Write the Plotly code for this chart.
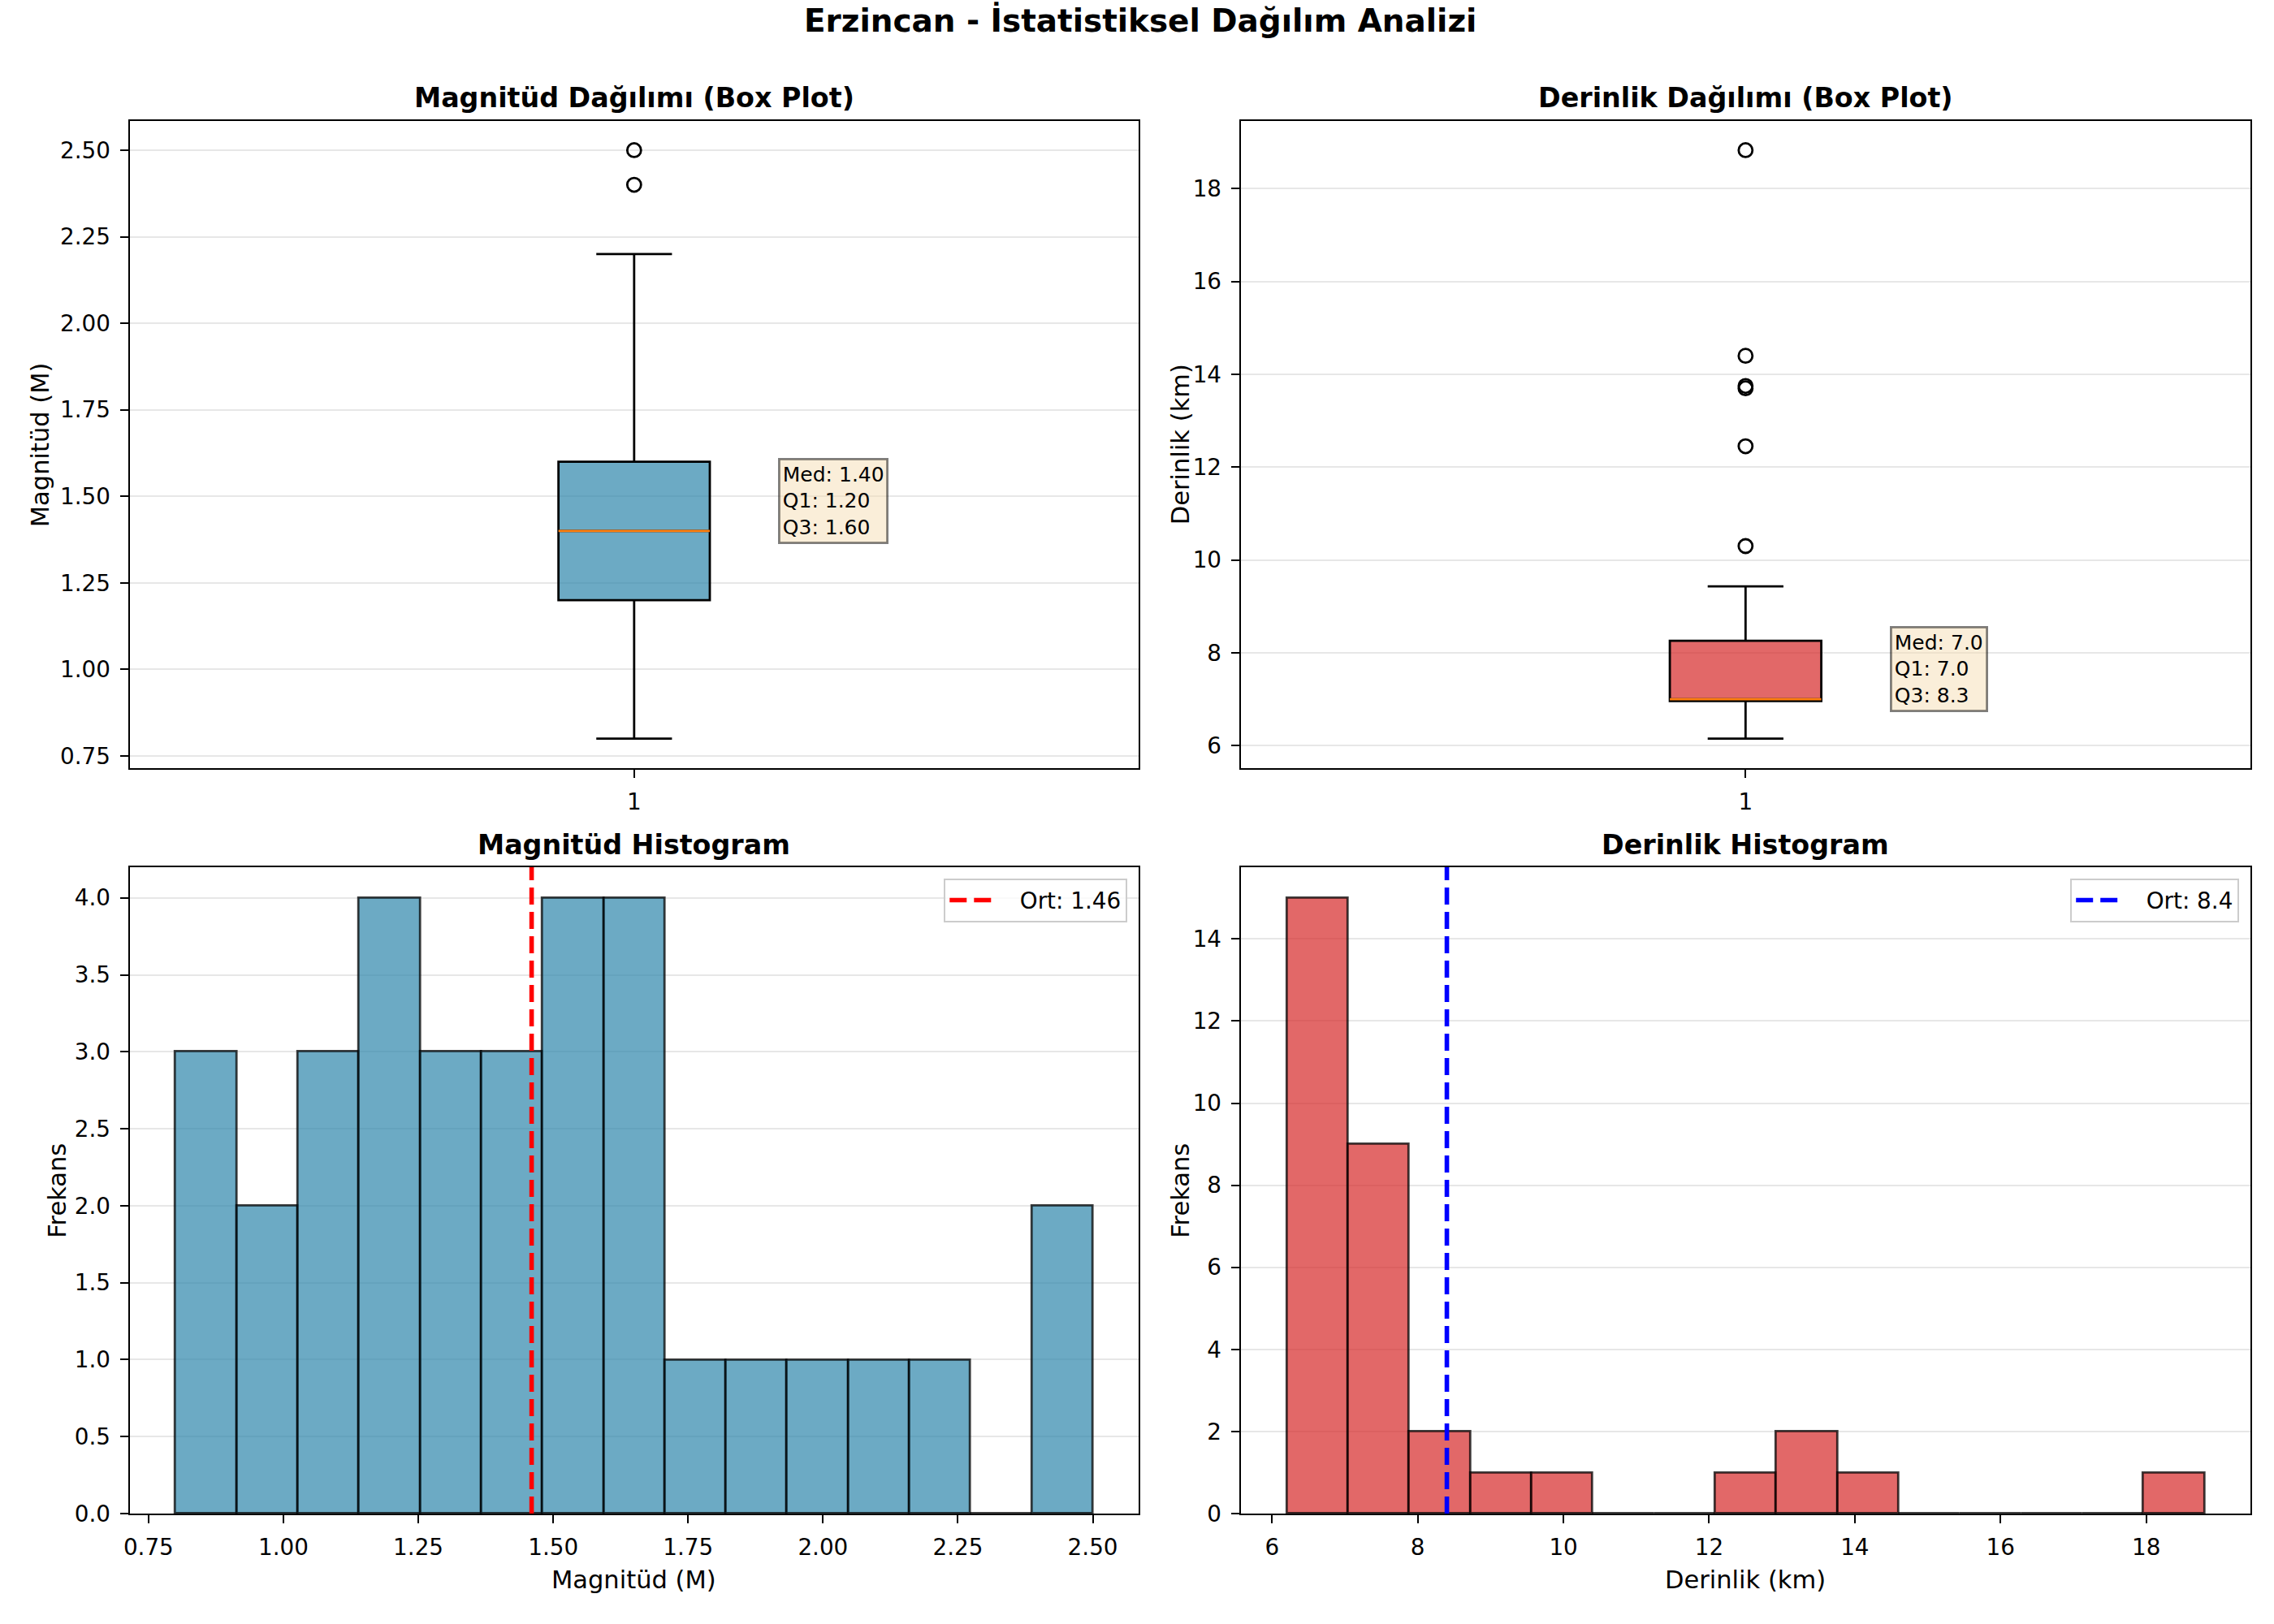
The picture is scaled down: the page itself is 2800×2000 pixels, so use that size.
import numpy as np
import plotly.graph_objects as go

# Magnitüd verisi
mag_counts = [3, 2, 3, 4, 3, 3, 4, 4, 1, 1, 1, 1, 1, 0, 2]   # 15 kutu
mag_min, mag_max = 0.8, 2.5
mag_mean = 1.46
mag_q1, mag_median, mag_q3 = 1.20, 1.40, 1.60
mag_whiskers = [0.80, 2.20]
mag_outliers = [2.40, 2.50]

# Derinlik verisi
dep_counts = [15, 9, 2, 1, 1, 0, 0, 1, 2, 1, 0, 0, 0, 0, 1]
dep_min, dep_max = 6.2, 18.8
dep_mean = 8.4
dep_q1, dep_median, dep_q3 = 6.96, 7.00, 8.26
dep_whiskers = [6.15, 9.43]
dep_outliers = [10.3, 12.45, 13.7, 13.75, 14.4, 18.83]

BLUE = 'rgba(46,134,171,0.7)'
RED = 'rgba(214,40,40,0.7)'
FONT = 'DejaVu Sans'
TICK = 27.8
LABEL = 30.5
NBSP = '\u00a0'

fig = go.Figure()


def kutu(xa, ya, q1, med, q3, whis, outliers, renk):
    fig.add_trace(go.Box(
        x=[1], q1=[q1], median=[med], q3=[q3],
        lowerfence=[whis[0]], upperfence=[whis[1]],
        orientation='v', width=0.15, whiskerwidth=0.5,
        fillcolor=renk, line=dict(color='black', width=2.8),
        boxpoints=False, showlegend=False, hoverinfo='skip',
        xaxis=xa, yaxis=ya))
    # medyan çizgisi (turuncu)
    fig.add_trace(go.Scatter(
        x=[1 - 0.075, 1 + 0.075], y=[med, med], mode='lines',
        line=dict(color='#ff7f0e', width=2.8),
        showlegend=False, hoverinfo='skip', xaxis=xa, yaxis=ya))
    fig.add_trace(go.Scatter(
        x=[1] * len(outliers), y=outliers, mode='markers',
        marker=dict(symbol='circle-open', size=17, color='black',
                    line=dict(width=2.8, color='black')),
        showlegend=False, hoverinfo='skip', xaxis=xa, yaxis=ya))


def histogram(xa, ya, counts, lo, hi, renk):
    edges = np.linspace(lo, hi, len(counts) + 1)
    centers = (edges[:-1] + edges[1:]) / 2
    fig.add_trace(go.Bar(
        x=centers, y=counts, width=edges[1] - edges[0],
        marker=dict(color=renk, line=dict(color='rgba(0,0,0,0.75)', width=2.8)),
        showlegend=False, hoverinfo='skip', xaxis=xa, yaxis=ya))


kutu('x', 'y', mag_q1, mag_median, mag_q3, mag_whiskers, mag_outliers, BLUE)
kutu('x2', 'y2', dep_q1, dep_median, dep_q3, dep_whiskers, dep_outliers, RED)
histogram('x3', 'y3', mag_counts, mag_min, mag_max, BLUE)
histogram('x4', 'y4', dep_counts, dep_min, dep_max, RED)

mag_ytop = max(mag_counts) * 1.05
dep_ytop = max(dep_counts) * 1.05

fig.add_trace(go.Scatter(
    x=[mag_mean, mag_mean], y=[0, mag_ytop], mode='lines',
    line=dict(color='red', width=5.6, dash='21px,9px'),
    name=NBSP * 3 + f'Ort: {mag_mean:.2f}', legend='legend', xaxis='x3', yaxis='y3'))
fig.add_trace(go.Scatter(
    x=[dep_mean, dep_mean], y=[0, dep_ytop], mode='lines',
    line=dict(color='blue', width=5.6, dash='21px,9px'),
    name=NBSP * 3 + f'Ort: {dep_mean:.1f}', legend='legend2', xaxis='x4', yaxis='y4'))

# Metin kutuları
kutu_stil = dict(showarrow=False, align='left', xanchor='left', yanchor='bottom',
                 bgcolor='rgba(245,222,179,0.5)', bordercolor='rgba(0,0,0,0.5)',
                 borderwidth=2.8, borderpad=3, font=dict(family=FONT, size=25, color='black'))
fig.add_annotation(x=1.15, y=mag_median, xref='x', yref='y', xshift=-9, yshift=-16,
                   text=f'Med: {mag_median:.2f}<br>Q1: {mag_q1:.2f}<br>Q3: {mag_q3:.2f}', **kutu_stil)
fig.add_annotation(x=1.15, y=dep_median, xref='x2', yref='y2', xshift=-9, yshift=-16,
                   text=f'Med: {dep_median:.1f}<br>Q1: {dep_q1:.1f}<br>Q3: {dep_q3:.1f}', **kutu_stil)


def pad(lo, hi):
    m = (hi - lo) * 0.05
    return [lo - m, hi + m]


ortak = dict(showline=True, mirror=True, linecolor='black', linewidth=2.2,
             ticks='outside', ticklen=10, tickwidth=2.2, tickcolor='black',
             tickfont=dict(family=FONT, size=TICK, color='black'),
             zeroline=False, ticklabelstandoff=6)
xgrid = dict(showgrid=False)
ygrid = dict(showgrid=True, gridcolor='#e7e7e7', gridwidth=2.2)

L = [0.0543, 0.4993]
R = [0.5443, 0.9896]
T = [0.523, 0.925]
B = [0.06, 0.4615]

mag_all = mag_whiskers + mag_outliers
dep_all = dep_whiskers + dep_outliers

lejant = dict(xanchor='right', yanchor='top', itemwidth=55,
              bgcolor='rgba(255,255,255,0.8)', bordercolor='#cccccc', borderwidth=2.2,
              font=dict(family=FONT, size=TICK, color='black'))

fig.update_layout(
    width=2800, height=2000,
    margin=dict(l=0, r=0, t=0, b=0),
    paper_bgcolor='white', plot_bgcolor='white',
    font=dict(family=FONT, color='black'),
    bargap=0,
    xaxis=dict(domain=L, anchor='y', range=[0.5, 1.5], tickvals=[1], ticktext=['1'], **ortak, **xgrid),
    yaxis=dict(domain=T, anchor='x', range=pad(min(mag_all), max(mag_all)),
               tick0=0.75, dtick=0.25, tickformat='.2f', **ortak, **ygrid),
    xaxis2=dict(domain=R, anchor='y2', range=[0.5, 1.5], tickvals=[1], ticktext=['1'], **ortak, **xgrid),
    yaxis2=dict(domain=T, anchor='x2', range=pad(min(dep_all), max(dep_all)),
                tick0=0, dtick=2, **ortak, **ygrid),
    xaxis3=dict(domain=L, anchor='y3', range=pad(mag_min, mag_max),
                tick0=0.75, dtick=0.25, tickformat='.2f', **ortak, **xgrid),
    yaxis3=dict(domain=B, anchor='x3', range=[0, mag_ytop],
                tick0=0, dtick=0.5, tickformat='.1f', **ortak, **ygrid),
    xaxis4=dict(domain=R, anchor='y4', range=pad(dep_min, dep_max),
                tick0=0, dtick=2, **ortak, **xgrid),
    yaxis4=dict(domain=B, anchor='x4', range=[0, dep_ytop],
                tick0=0, dtick=2, **ortak, **ygrid),
    legend=dict(x=0.4943, y=0.4545, **lejant),
    legend2=dict(x=0.9846, y=0.4545, **lejant),
)

# Başlıklar ve eksen etiketleri
merkez = dict(xref='paper', yref='paper', showarrow=False, xanchor='center', yanchor='middle')
fig.add_annotation(x=0.5, y=0.9875, text='<b>Erzincan - İstatistiksel Dağılım Analizi</b>',
                   font=dict(family=FONT, size=38.9, color='black'), **merkez)

basliklar = [
    ('Magnitüd Dağılımı (Box Plot)', L, 0.939),
    ('Derinlik Dağılımı (Box Plot)', R, 0.939),
    ('Magnitüd Histogram', L, 0.4755),
    ('Derinlik Histogram', R, 0.4755),
]
for metin, dom, y in basliklar:
    fig.add_annotation(x=sum(dom) / 2, y=y, text=f'<b>{metin}</b>',
                       font=dict(family=FONT, size=33.3, color='black'), **merkez)

ylabels = [
    ('Magnitüd (M)', 41, T),
    ('Derinlik (km)', 1449, T),
    ('Frekans', 63, B),
    ('Frekans', 1450, B),
]
for metin, px, dom in ylabels:
    fig.add_annotation(x=px / 2800, y=sum(dom) / 2, textangle=-90, text=metin,
                       font=dict(family=FONT, size=LABEL, color='black'), **merkez)

for metin, dom in [('Magnitüd (M)', L), ('Derinlik (km)', R)]:
    fig.add_annotation(x=sum(dom) / 2, y=1 - 1962 / 2000, text=metin,
                       font=dict(family=FONT, size=LABEL, color='black'), **merkez)

fig.write_html("out.html", config={'displayModeBar': False},
               post_script="document.body.style.margin='0';")
